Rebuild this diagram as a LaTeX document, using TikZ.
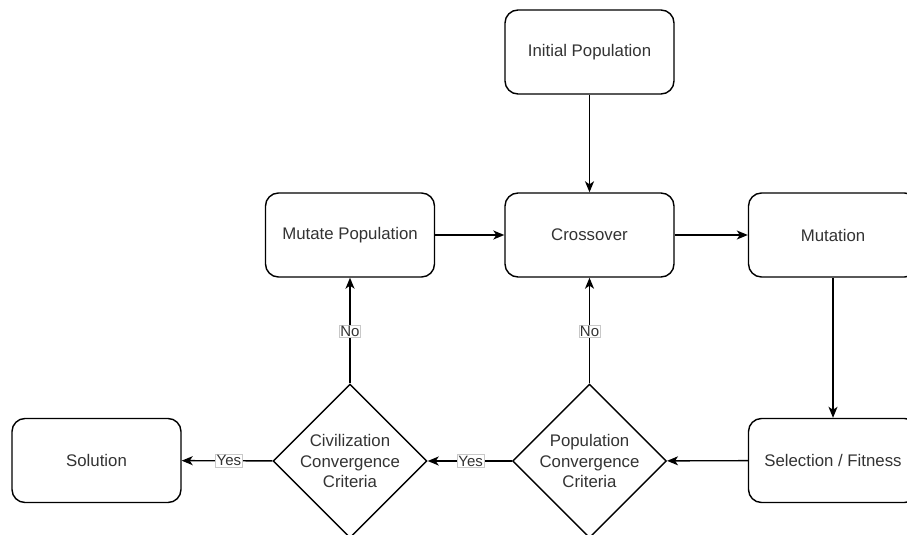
\documentclass[tikz,border=0pt]{standalone}
\usepackage{fontspec}
\setmainfont{Liberation Sans}
\usepackage{xcolor}
\usepackage{tikz}
\usetikzlibrary{arrows.meta,shapes.geometric}
\definecolor{line}{HTML}{000000}
\definecolor{text}{HTML}{333333}
\definecolor{frame}{HTML}{C8C8C8}
\tikzset{
  box/.style={draw=line, line width=1.4pt, rounded corners=13pt, fill=white,
    minimum width=169pt, minimum height=84pt, inner sep=0pt,
    text=text, font=\fontsize{16.8}{20.2}\selectfont, align=center},
  cond/.style={diamond, draw=line, line width=1.4pt, fill=white, aspect=1,
    minimum width=154pt, minimum height=154pt, inner sep=0pt,
    text=text, font=\fontsize{16.8}{20.2}\selectfont, align=center},
  flow/.style={draw=line, line width=1.4pt, -{Stealth[length=11pt,width=9pt,inset=3pt]}},
  lab/.style={fill=white, draw=frame, line width=0.6pt, inner sep=1pt,
    text=text, font=\fontsize{15}{17}\selectfont},
}
\begin{document}
\begin{tikzpicture}[x=1pt,y=-1pt]
  \useasboundingbox (0,0) rectangle (907,535);
  \clip (0,0) rectangle (907,535);

  % boxes
  \node[box] (init) at (589.5,52) {Initial Population};
  \node[box] (cross) at (589.5,235) {Crossover};
  \node[box] (mutpop) at (350,235) {Mutate Population};
  \node[box] (mutation) at (833,235) {Mutation};
  \node[box] (select) at (833,460.5) {Selection / Fitness};
  \node[box] (solution) at (96.5,460.5) {Solution};

  % decisions
  \node[cond] (popconv) at (589.5,461) {Population\\Convergence\\Criteria};
  \node[cond] (civconv) at (350,461) {Civilization\\Convergence\\Criteria};

  \draw[flow] (init) -- (cross);
  \draw[flow] (mutpop) -- (cross);
  \draw[flow] (cross) -- (mutation);
  \draw[flow] (mutation) -- (select);
  \draw[flow] (select) -- (popconv);
  \draw[flow] (popconv) -- node[lab, pos=0.49] {Yes} (civconv);
  \draw[flow] (civconv) -- node[lab, pos=0.48] {Yes} (solution);
  \draw[flow] (popconv) -- node[lab, pos=0.49] {No} (cross);
  \draw[flow] (civconv) -- node[lab, pos=0.49] {No} (mutpop);
\end{tikzpicture}
\end{document}
